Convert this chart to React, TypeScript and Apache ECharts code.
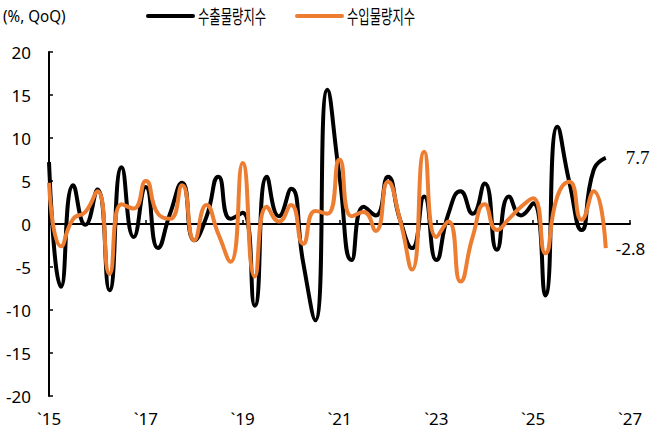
import React, { useEffect, useRef } from 'react';
import * as echarts from 'echarts';

// Quarterly observations (quarter-end dates), 2014Q4 .. 2026Q2
const quarters = [
  '2014Q4',
  '2015Q1', '2015Q2', '2015Q3', '2015Q4',
  '2016Q1', '2016Q2', '2016Q3', '2016Q4',
  '2017Q1', '2017Q2', '2017Q3', '2017Q4',
  '2018Q1', '2018Q2', '2018Q3', '2018Q4',
  '2019Q1', '2019Q2', '2019Q3', '2019Q4',
  '2020Q1', '2020Q2', '2020Q3', '2020Q4',
  '2021Q1', '2021Q2', '2021Q3', '2021Q4',
  '2022Q1', '2022Q2', '2022Q3', '2022Q4',
  '2023Q1', '2023Q2', '2023Q3', '2023Q4',
  '2024Q1', '2024Q2', '2024Q3', '2024Q4',
  '2025Q1', '2025Q2', '2025Q3', '2025Q4',
  '2026Q1', '2026Q2',
];

// 수출물량지수 (%, QoQ)
const exportVolume = [
  7.2, -7.3, 4.5, -0.1, 4.0, -7.7, 6.6, -1.5, 4.3, -2.8,
  1.2, 4.8, -1.9, 0.8, 5.5, 0.6, 1.3, -9.5, 5.5, 0.9,
  4.1, -4.5, -11.2, 15.6, 5.5, -4.2, 2.0, 1.0, 5.5, 0.5,
  -2.8, 3.2, -4.2, 1.2, 3.8, 1.2, 4.7, -3.0, 3.2, 1.0,
  2.4, -8.3, 11.3, 4.8, -0.7, 6.3, 7.7,
];

// 수입물량지수 (%, QoQ)
const importVolume = [
  4.8, -2.6, 0.6, 1.4, 3.8, -5.8, 2.3, 1.8, 5.0, 1.2,
  0.6, 4.5, -1.9, 2.2, -1.2, -4.4, 7.1, -6.1, 2.0, 0.3,
  2.2, -2.3, 1.5, 1.2, 7.5, 0.9, 1.4, -0.8, 4.9, 0.5,
  -5.3, 8.4, -1.5, 0.3, -6.7, -1.5, 2.3, -0.7, 0.6, 2.0,
  3.0, -3.4, 3.2, 4.9, 0.5, 3.8, -2.8,
];

const seriesNames = ['수출물량지수', '수입물량지수'];
const xTickLabels = ['`15', '`17', '`19', '`21', '`23', '`25', '`27'];
const unitLabel = '(%, QoQ)';

const BLACK = '#000000';
const ORANGE = '#ED7D31';

export default function App() {
  const ref = useRef<HTMLDivElement>(null);

  useEffect(() => {
    if (!ref.current) return;
    const chart = echarts.init(ref.current, null, { renderer: 'svg' });
    const toPoints = (arr: number[]) => arr.map((v, i) => [i, v]);
    const xMax = xTickLabels.length * 8 - 8;

    chart.setOption({
      animation: false,
      backgroundColor: '#ffffff',
      grid: { left: 49, right: 33, top: 52, bottom: 40, containLabel: false },
      xAxis: [
        {
          type: 'value',
          position: 'bottom',
          min: 0,
          max: xMax,
          interval: 8,
          axisLine: { show: false, onZero: false },
          axisTick: { show: false },
          splitLine: { show: false },
          axisLabel: {
            color: BLACK,
            fontSize: 17,
            fontFamily: 'Noto Sans',
            margin: 14,
            formatter: (v: number) => xTickLabels[Math.round(v / 8)] ?? '',
          },
        },
        {
          type: 'value',
          position: 'bottom',
          min: 0,
          max: xMax,
          interval: 8,
          axisLine: { show: true, onZero: true, lineStyle: { color: BLACK, width: 2 } },
          axisTick: { show: true, inside: true, length: 4, lineStyle: { color: BLACK, width: 1.5 } },
          axisLabel: { show: false },
          splitLine: { show: false },
        },
      ],
      yAxis: {
        type: 'value',
        min: -20,
        max: 20,
        interval: 5,
        axisLine: { show: true, onZero: false, lineStyle: { color: BLACK, width: 2 } },
        axisTick: { show: true, inside: true, length: 4, lineStyle: { color: BLACK, width: 1.5 } },
        splitLine: { show: false },
        axisLabel: { color: BLACK, fontSize: 17, fontFamily: 'Noto Sans', margin: 18 },
      },
      series: [
        {
          name: seriesNames[0],
          type: 'line',
          xAxisIndex: 0,
          data: toPoints(exportVolume),
          smooth: 0.55,
          showSymbol: false,
          lineStyle: { color: BLACK, width: 4 },
          itemStyle: { color: BLACK },
          endLabel: {
            show: true,
            distance: 20,
            color: BLACK,
            fontSize: 19,
            fontFamily: 'Liberation Serif',
            formatter: (p: any) => Number(p.value[1]).toFixed(1),
          },
          z: 2,
        },
        {
          name: seriesNames[1],
          type: 'line',
          xAxisIndex: 0,
          data: toPoints(importVolume),
          smooth: 0.55,
          showSymbol: false,
          lineStyle: { color: ORANGE, width: 4 },
          itemStyle: { color: ORANGE },
          endLabel: {
            show: true,
            distance: 10,
            color: BLACK,
            fontSize: 17,
            fontFamily: 'Noto Sans',
            formatter: (p: any) => Number(p.value[1]).toFixed(1),
          },
          z: 3,
        },
      ],
      graphic: [
        {
          type: 'text',
          x: 3,
          y: 16,
          scaleX: 0.92,
          style: {
            text: unitLabel,
            fill: BLACK,
            fontSize: 16.5,
            fontFamily: 'Noto Sans',
            textVerticalAlign: 'middle',
          },
        },
        {
          type: 'line',
          shape: { x1: 148, y1: 16, x2: 193, y2: 16 },
          style: { stroke: BLACK, lineWidth: 4, lineCap: 'round' },
        },
        {
          type: 'text',
          x: 198,
          y: 16,
          scaleX: 0.65,
          style: {
            text: seriesNames[0],
            fill: BLACK,
            fontSize: 19,
            fontFamily: 'Noto Sans CJK KR',
            textVerticalAlign: 'middle',
          },
        },
        {
          type: 'line',
          shape: { x1: 297, y1: 16, x2: 342, y2: 16 },
          style: { stroke: ORANGE, lineWidth: 4, lineCap: 'round' },
        },
        {
          type: 'text',
          x: 347,
          y: 16,
          scaleX: 0.65,
          style: {
            text: seriesNames[1],
            fill: BLACK,
            fontSize: 19,
            fontFamily: 'Noto Sans CJK KR',
            textVerticalAlign: 'middle',
          },
        },
      ],
    });

    return () => chart.dispose();
  }, []);

  return (
    <div
      ref={ref}
      style={{ position: 'absolute', left: 0, top: 0, width: 663, height: 436 }}
    />
  );
}
